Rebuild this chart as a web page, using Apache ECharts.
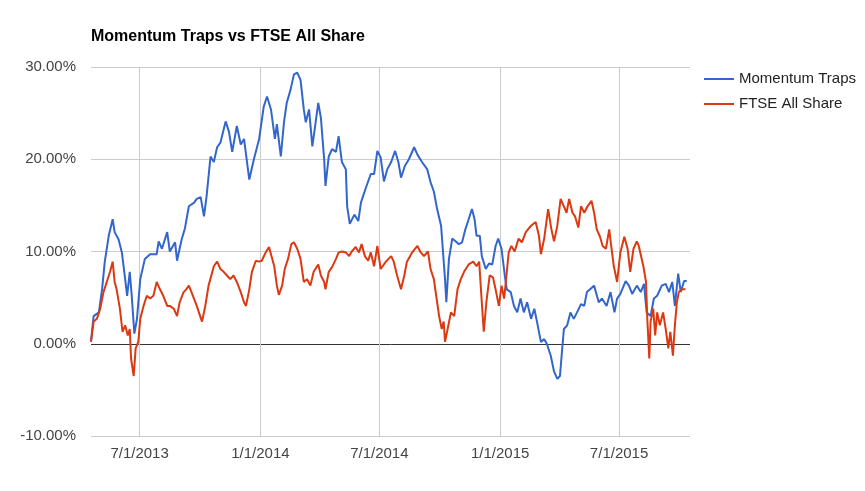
<!DOCTYPE html>
<html>
<head>
<meta charset="utf-8">
<script src="https://cdn.jsdelivr.net/npm/echarts@6/dist/echarts.min.js"></script>
<style>
html, body { margin: 0; padding: 0; background: #fff; }
#chart { width: 865px; height: 491px; }
</style>
</head>
<body>
<div id="chart"></div>
<script>
// 动量陷阱组合 vs FTSE All Share 的累计收益 (%)
const momDates = ['2013-04-18','2013-04-22','2013-04-30','2013-05-05','2013-05-09','2013-05-15','2013-05-21','2013-05-24','2013-05-30','2013-06-04','2013-06-09','2013-06-12','2013-06-16','2013-06-19','2013-06-23','2013-06-27','2013-07-02','2013-07-09','2013-07-17','2013-07-27','2013-07-30','2013-08-04','2013-08-12','2013-08-16','2013-08-24','2013-08-27','2013-09-03','2013-09-08','2013-09-14','2013-09-22','2013-09-26','2013-10-02','2013-10-07','2013-10-11','2013-10-17','2013-10-22','2013-10-27','2013-11-01','2013-11-09','2013-11-14','2013-11-19','2013-11-26','2013-12-02','2013-12-07','2013-12-15','2013-12-22','2013-12-30','2014-01-06','2014-01-11','2014-01-17','2014-01-23','2014-01-26','2014-02-01','2014-02-06','2014-02-10','2014-02-16','2014-02-21','2014-02-26','2014-03-03','2014-03-08','2014-03-11','2014-03-16','2014-03-21','2014-03-26','2014-03-30','2014-04-03','2014-04-08','2014-04-10','2014-04-15','2014-04-20','2014-04-26','2014-04-30','2014-05-05','2014-05-11','2014-05-13','2014-05-17','2014-05-24','2014-05-30','2014-06-03','2014-06-10','2014-06-18','2014-06-23','2014-06-28','2014-07-03','2014-07-08','2014-07-13','2014-07-19','2014-07-25','2014-07-30','2014-08-03','2014-08-09','2014-08-15','2014-08-23','2014-08-28','2014-09-04','2014-09-12','2014-09-17','2014-09-22','2014-09-27','2014-10-03','2014-10-06','2014-10-09','2014-10-11','2014-10-15','2014-10-20','2014-10-25','2014-10-30','2014-11-04','2014-11-09','2014-11-14','2014-11-19','2014-11-23','2014-11-26','2014-12-01','2014-12-04','2014-12-10','2014-12-15','2014-12-20','2014-12-25','2014-12-29','2015-01-03','2015-01-08','2015-01-11','2015-01-17','2015-01-22','2015-01-27','2015-02-01','2015-02-06','2015-02-11','2015-02-17','2015-02-22','2015-02-26','2015-03-04','2015-03-09','2015-03-13','2015-03-19','2015-03-24','2015-03-29','2015-04-02','2015-04-05','2015-04-08','2015-04-13','2015-04-18','2015-04-23','2015-04-28','2015-05-04','2015-05-09','2015-05-13','2015-05-16','2015-05-24','2015-05-31','2015-06-05','2015-06-12','2015-06-18','2015-06-24','2015-06-28','2015-07-03','2015-07-11','2015-07-16','2015-07-21','2015-07-28','2015-08-03','2015-08-08','2015-08-12','2015-08-18','2015-08-23','2015-08-28','2015-09-04','2015-09-10','2015-09-15','2015-09-20','2015-09-24','2015-09-29','2015-10-03','2015-10-08','2015-10-12']
const momValues = [0.3,3.0,3.4,6.0,8.9,11.7,13.5,12.1,11.3,9.9,7.0,5.2,7.8,5.2,1.1,2.7,7.0,9.2,9.7,9.7,11.1,10.3,12.1,10.0,11.0,9.0,11.3,12.5,14.9,15.3,15.7,15.9,13.8,16.0,20.3,19.7,21.3,21.8,24.1,23.0,20.8,23.6,21.6,22.2,17.8,20.0,22.2,25.7,26.8,25.4,22.2,23.8,20.3,24.1,26.1,27.6,29.2,29.4,28.6,25.4,24.0,25.4,21.4,24.0,26.1,24.5,20.0,17.1,20.3,21.1,20.8,22.5,19.7,18.9,14.9,13.0,14.0,13.3,15.3,16.8,18.4,18.4,20.9,20.2,17.6,18.9,19.7,20.9,19.7,18.0,19.3,20.0,21.3,20.5,19.7,18.9,17.5,16.5,14.6,12.8,9.9,7.0,4.5,9.2,11.4,11.1,10.8,11.0,12.4,13.5,14.6,13.5,11.7,11.7,9.5,8.1,8.7,8.6,10.6,11.4,10.3,7.4,5.9,5.6,4.1,3.4,4.9,3.4,4.5,2.7,3.8,2.4,0.2,0.5,0.0,-1.3,-3.0,-3.8,-3.5,-0.9,1.6,2.0,3.4,2.7,3.4,4.3,4.1,5.6,5.6,6.3,4.5,4.9,4.1,5.6,3.4,4.9,5.4,6.8,6.3,5.4,6.3,5.6,6.5,3.4,3.0,4.9,5.2,6.3,6.5,5.6,6.7,4.1,7.6,5.6,6.8,6.8]

const ftseDates = ['2013-04-18','2013-04-22','2013-04-27','2013-05-02','2013-05-07','2013-05-12','2013-05-17','2013-05-21','2013-05-24','2013-05-27','2013-06-01','2013-06-05','2013-06-09','2013-06-13','2013-06-16','2013-06-18','2013-06-22','2013-06-25','2013-06-29','2013-07-02','2013-07-07','2013-07-12','2013-07-17','2013-07-22','2013-07-27','2013-08-01','2013-08-06','2013-08-12','2013-08-16','2013-08-22','2013-08-27','2013-08-31','2013-09-06','2013-09-10','2013-09-14','2013-09-18','2013-09-26','2013-10-04','2013-10-09','2013-10-14','2013-10-22','2013-10-27','2013-11-01','2013-11-06','2013-11-11','2013-11-16','2013-11-21','2013-11-26','2013-12-02','2013-12-07','2013-12-10','2013-12-15','2013-12-19','2013-12-25','2013-12-30','2014-01-03','2014-01-09','2014-01-14','2014-01-17','2014-01-22','2014-01-26','2014-01-29','2014-02-03','2014-02-07','2014-02-12','2014-02-17','2014-02-21','2014-02-26','2014-03-03','2014-03-08','2014-03-13','2014-03-18','2014-03-23','2014-03-30','2014-04-03','2014-04-08','2014-04-10','2014-04-15','2014-04-20','2014-04-26','2014-04-30','2014-05-05','2014-05-11','2014-05-16','2014-05-20','2014-05-26','2014-05-31','2014-06-04','2014-06-09','2014-06-14','2014-06-18','2014-06-23','2014-06-28','2014-07-03','2014-07-11','2014-07-19','2014-07-23','2014-07-28','2014-08-03','2014-08-08','2014-08-12','2014-08-20','2014-08-28','2014-09-02','2014-09-07','2014-09-13','2014-09-17','2014-09-22','2014-09-27','2014-09-30','2014-10-04','2014-10-07','2014-10-09','2014-10-13','2014-10-18','2014-10-23','2014-10-28','2014-11-02','2014-11-07','2014-11-14','2014-11-21','2014-11-26','2014-11-30','2014-12-04','2014-12-07','2014-12-11','2014-12-16','2014-12-21','2014-12-25','2014-12-30','2015-01-03','2015-01-07','2015-01-10','2015-01-14','2015-01-18','2015-01-23','2015-01-29','2015-02-03','2015-02-09','2015-02-17','2015-02-24','2015-03-01','2015-03-04','2015-03-09','2015-03-15','2015-03-20','2015-03-24','2015-03-29','2015-04-03','2015-04-08','2015-04-12','2015-04-16','2015-04-21','2015-04-25','2015-04-30','2015-05-04','2015-05-09','2015-05-14','2015-05-20','2015-05-24','2015-05-28','2015-06-02','2015-06-06','2015-06-11','2015-06-16','2015-06-19','2015-06-23','2015-06-28','2015-07-03','2015-07-09','2015-07-14','2015-07-18','2015-07-23','2015-07-28','2015-07-31','2015-08-07','2015-08-11','2015-08-13','2015-08-16','2015-08-18','2015-08-22','2015-08-25','2015-08-28','2015-09-01','2015-09-06','2015-09-10','2015-09-14','2015-09-17','2015-09-21','2015-09-24','2015-09-27','2015-09-30','2015-10-05','2015-10-10']
const ftseValues = [0.2,2.4,2.7,3.8,5.6,6.7,7.8,8.9,6.7,5.9,3.8,1.3,2.0,0.9,1.6,-1.6,-3.5,-0.5,0.2,2.7,4.1,5.2,4.9,5.2,6.7,5.9,5.2,4.1,4.1,3.8,3.0,4.5,5.6,5.9,6.3,5.6,4.1,2.4,4.1,6.3,8.4,8.9,8.1,7.8,7.4,7.0,7.4,6.7,5.6,4.5,4.1,5.9,7.8,9.0,8.9,9.0,9.9,10.5,10.3,8.4,6.3,5.3,6.3,8.1,9.2,10.8,11.0,10.3,9.2,6.7,7.0,6.3,7.8,8.6,7.4,6.7,5.9,7.8,8.3,9.2,9.9,10.0,9.9,9.5,10.0,10.5,9.9,10.8,9.5,9.0,9.9,8.4,10.6,8.1,8.9,9.5,8.9,7.4,5.9,7.4,8.9,9.9,10.6,9.9,9.5,10.0,8.1,7.0,4.5,3.0,1.6,2.4,0.2,1.6,3.4,3.0,5.9,7.0,7.8,8.6,8.9,8.4,8.9,4.5,1.3,4.5,7.4,7.2,5.9,4.1,6.3,4.9,7.0,9.9,10.6,10.0,11.4,11.0,12.1,12.8,13.2,11.7,9.7,11.4,14.6,12.4,11.1,12.8,15.7,14.9,14.2,15.7,14.2,13.8,12.6,14.9,14.2,14.9,15.5,14.2,12.4,11.6,10.6,10.3,12.4,10.6,8.4,6.7,9.9,11.6,10.3,7.8,10.3,11.1,10.6,8.4,6.7,2.7,-1.6,2.4,3.8,0.9,3.4,2.0,3.4,1.6,-0.5,1.3,-1.3,2.0,4.5,5.6,5.9,5.9]

const tickDates = ['2013-07-01','2014-01-01','2014-07-01','2015-01-01','2015-07-01']
const yTicks = [-10, 0, 10, 20, 30]
const seriesNames = ['Momentum Traps', 'FTSE All Share']

const font = "'Liberation Sans', Arial, Helvetica, sans-serif"
const toTime = s => echarts.number.parseDate(s).getTime()

const chart = echarts.init(document.getElementById('chart'))
const option = {
    animation: false,
    backgroundColor: '#fff',
    title: {
        text: 'Momentum Traps vs FTSE All Share',
        left: 86,
        top: 24,
        textStyle: { color: '#000', fontSize: 16, fontWeight: 'bold', fontFamily: font },
    },
    legend: {
        orient: 'vertical',
        left: 699,
        top: 65,
        icon: 'rect',
        itemWidth: 30,
        itemHeight: 2,
        itemGap: 7,
        textStyle: { color: '#222', fontSize: 15, fontFamily: font, lineHeight: 18 },
        data: seriesNames,
    },
    grid: { left: 91, right: 175, top: 67, bottom: 55 },
    // 横轴用时间戳数值轴, 刻度只放在 1/1 和 7/1
    xAxis: {
        type: 'value',
        min: toTime('2013-04-18'),
        max: toTime('2015-10-17'),
        axisLine: { show: false },
        axisTick: { show: false, customValues: tickDates.map(toTime) },
        axisLabel: {
            customValues: tickDates.map(toTime),
            color: '#444',
            fontSize: 15,
            fontFamily: font,
            margin: 10,
            formatter: v => {
                const d = new Date(v)
                return (d.getMonth() + 1) + '/' + d.getDate() + '/' + d.getFullYear()
            },
        },
        splitLine: { show: true, lineStyle: { color: '#cccccc', width: 1 } },
    },
    yAxis: {
        type: 'value',
        min: yTicks[0],
        max: yTicks[yTicks.length - 1],
        interval: 10,
        axisLine: { show: false },
        axisTick: { show: false },
        axisLabel: {
            color: '#444',
            fontSize: 15,
            fontFamily: font,
            margin: 15,
            formatter: v => v.toFixed(2) + '%',
        },
        // 0% 这条线用黑色
        splitLine: { lineStyle: { color: ['#cccccc', '#333333', '#cccccc', '#cccccc', '#cccccc'], width: 1 } },
    },
    series: [
        {
            name: seriesNames[0],
            type: 'line',
            showSymbol: false,
            symbol: 'none',
            color: '#3366cc',
            lineStyle: { width: 2, color: '#3366cc' },
            data: momDates.map((d, i) => [toTime(d), momValues[i]]),
        },
        {
            name: seriesNames[1],
            type: 'line',
            showSymbol: false,
            symbol: 'none',
            color: '#dc3912',
            lineStyle: { width: 2, color: '#dc3912' },
            data: ftseDates.map((d, i) => [toTime(d), ftseValues[i]]),
        },
    ],
}
chart.setOption(option)
</script>
</body>
</html>
